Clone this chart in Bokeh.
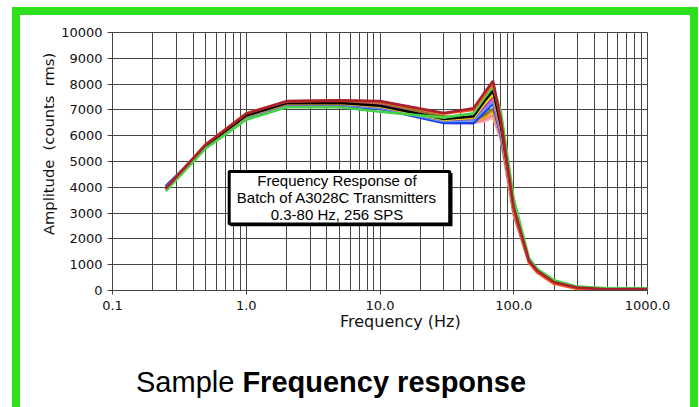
from bokeh.plotting import figure
from bokeh.layouts import column, row
from bokeh.models import Range1d, FixedTicker, PrintfTickFormatter, BoxAnnotation, Label, Div
from bokeh.embed import file_html
from bokeh.resources import INLINE

# ---------------- data ----------------
freq_hz = [0.25, 0.5, 1, 2, 5, 10, 30, 50, 60, 70, 80, 100, 130, 150, 200, 300, 500, 1000]

amp_maroon    = [3960, 5660, 6850, 7340, 7370, 7340, 6880, 7060, 7650, 8120, 6600, 3200, 1150, 760, 320, 110, 50, 55]
amp_orangered = [3950, 5680, 6870, 7330, 7360, 7320, 6850, 7000, 7570, 8030, 6650, 3150, 1080, 690, 260, 60, 25, 35]
amp_green     = [3850, 5520, 6620, 7100, 7100, 6930, 6700, 6870, 7450, 7900, 6950, 3550, 1250, 830, 400, 150, 90, 85]
amp_black     = [3940, 5620, 6780, 7260, 7270, 7160, 6650, 6750, 7330, 7750, 6400, 3250, 1170, 760, 330, 110, 55, 60]
amp_yellow    = [3930, 5610, 6760, 7240, 7250, 7130, 6620, 6700, 7230, 7620, 6300, 3150, 1140, 750, 320, 100, 50, 55]
amp_purple    = [3950, 5600, 6740, 7210, 7220, 7100, 6600, 6650, 7130, 7520, 6200, 3180, 1150, 750, 320, 100, 50, 55]
amp_magenta   = [3960, 5630, 6770, 7230, 7250, 7180, 6640, 6680, 7080, 7430, 6150, 3120, 1140, 745, 315, 100, 50, 55]
amp_lightblue = [3980, 5600, 6720, 7190, 7200, 7070, 6560, 6600, 7000, 7340, 6100, 3250, 1180, 770, 330, 110, 55, 60]
amp_blue      = [4040, 5580, 6680, 7140, 7150, 7050, 6490, 6480, 6900, 7250, 6000, 3350, 1200, 790, 340, 115, 60, 60]
amp_olive     = [3940, 5650, 6820, 7290, 7300, 7250, 6750, 6620, 6780, 7050, 6100, 3000, 1100, 720, 300, 90, 45, 50]
amp_gold      = [3930, 5640, 6810, 7270, 7280, 7220, 6700, 6560, 6700, 6950, 6050, 3050, 1120, 730, 300, 95, 45, 50]
amp_salmon    = [3920, 5630, 6800, 7250, 7260, 7200, 6680, 6520, 6620, 6800, 5950, 2950, 1100, 720, 300, 90, 45, 50]
amp_lightpink = [3930, 5640, 6810, 7270, 7280, 7230, 6720, 6500, 6550, 6700, 5850, 2900, 1080, 710, 290, 85, 40, 50]

x_ticks = [0.1, 1, 10, 100, 1000]
y_ticks = [0, 1000, 2000, 3000, 4000, 5000, 6000, 7000, 8000, 9000, 10000]

x_title = "Frequency (Hz)"
y_title = "Amplitude  (counts  rms)"
box_lines = ["Frequency Response of", "Batch of A3028C Transmitters", "0.3-80 Hz, 256 SPS"]
caption_regular = "Sample"
caption_bold = "Frequency response"

# ---------------- styles ----------------
series = [amp_lightpink, amp_salmon, amp_gold, amp_olive, amp_blue, amp_lightblue,
          amp_magenta, amp_purple, amp_yellow, amp_black, amp_green, amp_orangered, amp_maroon]
colors = ["#FFB0BC", "#F28A80", "#F2A91E", "#8C7A2A", "#1E3CE6", "#4AA8FF",
          "#FF50D2", "#9B4FD0", "#F2DC00", "#000000", "#46D246", "#FF5A1E", "#A8202E"]

GREEN = "#2CE01C"
GRID = "#444444"

W = 699
YW = 56           # width of the y-title strip
PW = W - YW       # figure width
PH = 316          # figure height
DH = 407 - PH     # text area below
FL, FT, FR, FB = 112, 32, 647, 290   # frame edges in page px

p = figure(width=PW, height=PH, output_backend="svg", toolbar_location=None,
           x_axis_type="log", x_range=Range1d(0.1, 1000), y_range=Range1d(0, 10000),
           min_border_left=FL - YW, min_border_right=W - FR, min_border_top=FT,
           min_border_bottom=PH - FB)
p.background_fill_color = "white"
p.border_fill_color = None
p.outline_line_color = GRID

x_minor = [m * d for d in x_ticks[:-1] for m in range(2, 10)]
p.xaxis.ticker = FixedTicker(ticks=x_ticks, minor_ticks=x_minor)
p.xaxis.formatter = PrintfTickFormatter(format="%.1f")
p.yaxis.ticker = FixedTicker(ticks=y_ticks)
p.yaxis.formatter = PrintfTickFormatter(format="%d")

for ax in (p.xaxis[0], p.yaxis[0]):
    ax.axis_line_color = GRID
    ax.major_tick_line_color = GRID
    ax.major_tick_in = 0
    ax.minor_tick_in = 0
    ax.minor_tick_out = 0
    ax.major_label_text_font = "DejaVu Sans"
    ax.major_label_text_font_size = "13px"
    ax.major_label_text_color = "#111111"
p.xaxis.major_tick_out = 4
p.xaxis.major_label_standoff = 6
p.yaxis.major_tick_out = 5
p.yaxis.major_label_standoff = 5

p.xgrid.grid_line_color = GRID
p.xgrid.minor_grid_line_color = GRID
p.ygrid.grid_line_color = GRID

for ys, c in zip(series, colors):
    p.line(freq_hz, ys, line_color=c, line_width=2.6)

# text box with a slight shadow (screen units: px from frame's bottom-left)
def screen_box(**kw):
    return BoxAnnotation(left_units="screen", right_units="screen",
                         top_units="screen", bottom_units="screen", **kw)

p.add_layout(screen_box(left=118.2, right=340.0, top=117.5, bottom=64.3,
                        fill_color="black", fill_alpha=1, line_color=None))
p.add_layout(screen_box(left=116.7, right=337.2, top=119, bottom=66.5,
                        fill_color="white", fill_alpha=1,
                        line_color="black", line_alpha=1, line_width=3))
for txt, yy in zip(box_lines, [110.4, 93.0, 76.0]):
    p.add_layout(Label(x=224.5, y=yy, x_units="screen", y_units="screen", text=txt,
                       text_align="center", text_baseline="middle",
                       text_font="Liberation Sans", text_font_size="15px", text_color="black"))

# rotated y-axis title (placed upward of centre, as in the reference)
ytitle = Div(text=('<div style="margin:0;padding:0;white-space:pre;'
                   'font-family:\'DejaVu Sans\',sans-serif;font-size:14.7px;line-height:15px;'
                   'color:#111;transform-origin:0 0;'
                   f'transform:translate(41px,235px) rotate(-90deg)">{y_title}</div>'),
             width=YW, height=PH, margin=0, styles={"overflow": "visible"})

# x axis title and caption below the chart
below = Div(text=('<div style="margin:0;padding:0 0 0 340px;white-space:nowrap;'
                  'font-family:\'DejaVu Sans\',sans-serif;font-size:16px;line-height:12px;'
                  f'color:#111">{x_title}</div>'
                  '<div style="margin:0;padding:40px 0 0 136px;white-space:nowrap;'
                  'font-family:\'Liberation Sans\',Arial,sans-serif;font-size:29px;'
                  'line-height:29px;color:#000">'
                  f'{caption_regular} <b>{caption_bold}</b></div>'),
            width=W, height=DH, margin=0, styles={"overflow": "visible"})

green = f"linear-gradient({GREEN},{GREEN})"
layout = column(row(ytitle, p, spacing=0), below, spacing=0, width=W, height=407,
                styles={"background-image": ", ".join([green] * 3),
                        "background-size": "686px 8px, 8px 400px, 8px 400px",
                        "background-position": "12px 7px, 12px 7px, 690px 7px",
                        "background-repeat": "no-repeat",
                        "background-color": "white"})

open("out.html", "w").write(file_html(layout, INLINE))
